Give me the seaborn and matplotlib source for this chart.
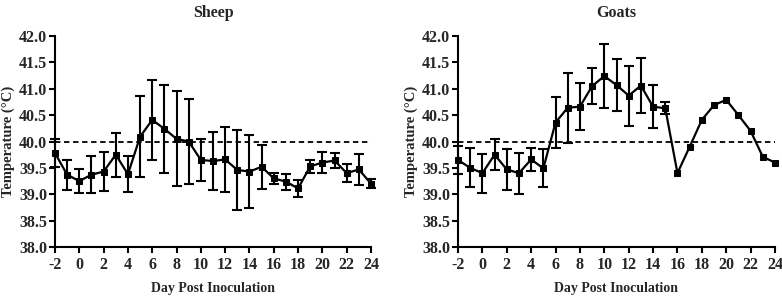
import numpy as np
import pandas as pd
import seaborn as sns
import matplotlib.pyplot as plt
from matplotlib.ticker import MultipleLocator

# Daily mean rectal temperature (°C) with SD
days = list(range(-2, 25))

sheep_temp = [39.78, 39.37, 39.25, 39.37, 39.43, 39.75, 39.38, 40.09, 40.41, 40.24,
              40.05, 40.00, 39.65, 39.63, 39.66, 39.46, 39.43, 39.52, 39.30, 39.24,
              39.11, 39.53, 39.60, 39.64, 39.40, 39.47, 39.20]
sheep_sd = [0.27, 0.28, 0.23, 0.35, 0.37, 0.42, 0.34, 0.77, 0.76, 0.83,
            0.90, 0.81, 0.40, 0.55, 0.61, 0.76, 0.69, 0.42, 0.10, 0.15,
            0.16, 0.12, 0.20, 0.15, 0.17, 0.30, 0.09]

goat_temp = [39.65, 39.50, 39.40, 39.75, 39.47, 39.40, 39.66, 39.49, 40.36, 40.64,
             40.66, 41.05, 41.24, 41.07, 40.87, 41.06, 40.66, 40.63, 39.40, 39.90,
             40.41, 40.69, 40.79, 40.50, 40.20, 39.71, 39.60]
goat_sd = [0.26, 0.37, 0.37, 0.29, 0.38, 0.39, 0.21, 0.36, 0.48, 0.66,
           0.45, 0.34, 0.60, 0.50, 0.57, 0.52, 0.41, 0.11, np.nan, np.nan,
           np.nan, np.nan, np.nan, np.nan, np.nan, np.nan, np.nan]

threshold = 40.0

sns.set_style('ticks')
plt.rcParams['font.family'] = ['Liberation Serif', 'DejaVu Serif']
plt.rcParams['font.weight'] = 'bold'
plt.rcParams['axes.labelweight'] = 'bold'
plt.rcParams['axes.unicode_minus'] = False

fig = plt.figure(figsize=(7.82, 2.97), dpi=100)
ax1 = fig.add_axes([55 / 782, 50 / 297, 316 / 782, 211 / 297])
ax2 = fig.add_axes([458 / 782, 50 / 297, 317 / 782, 211 / 297])


def draw_panel(ax, temp, sd, title):
    df = pd.DataFrame({'day': days, 'temp': temp, 'sd': sd})
    ax.errorbar(df['day'], df['temp'], yerr=df['sd'], fmt='none', ecolor='black',
                elinewidth=1.5, capsize=3.5, capthick=1.5, clip_on=False, zorder=2)
    sns.lineplot(data=df, x='day', y='temp', ax=ax, color='black', linewidth=1.6,
                 marker='s', markersize=5, markeredgecolor='black', clip_on=False,
                 zorder=3)
    ax.axhline(threshold, color='black', linestyle=(0, (3, 2)), linewidth=1.3, zorder=1)

    ax.set_xlim(-2, 24)
    ax.set_ylim(38.0, 42.0)
    ax.xaxis.set_major_locator(MultipleLocator(2))
    ax.yaxis.set_major_locator(MultipleLocator(0.5))
    ax.yaxis.set_major_formatter(plt.FormatStrFormatter('%.1f'))
    ax.set_title(title, fontsize=11.5, fontweight='bold', pad=14)
    ax.set_xlabel('Day Post Inoculation', fontsize=10, labelpad=6)
    ax.set_ylabel('Temperature (°C)', fontsize=10.5, labelpad=3)
    ax.tick_params(axis='both', labelsize=11.5, width=1.5, length=4, direction='out',
                   color='black')
    ax.tick_params(axis='x', pad=3.5)
    ax.tick_params(axis='y', pad=1.5)
    for lab in ax.get_xticklabels() + ax.get_yticklabels():
        lab.set_fontweight('bold')
    for side in ['left', 'bottom']:
        ax.spines[side].set_linewidth(1.5)
        ax.spines[side].set_color('black')
    sns.despine(ax=ax)


draw_panel(ax1, sheep_temp, sheep_sd, 'Sheep')
draw_panel(ax2, goat_temp, goat_sd, 'Goats')

fig.savefig('out.png', dpi=100)
